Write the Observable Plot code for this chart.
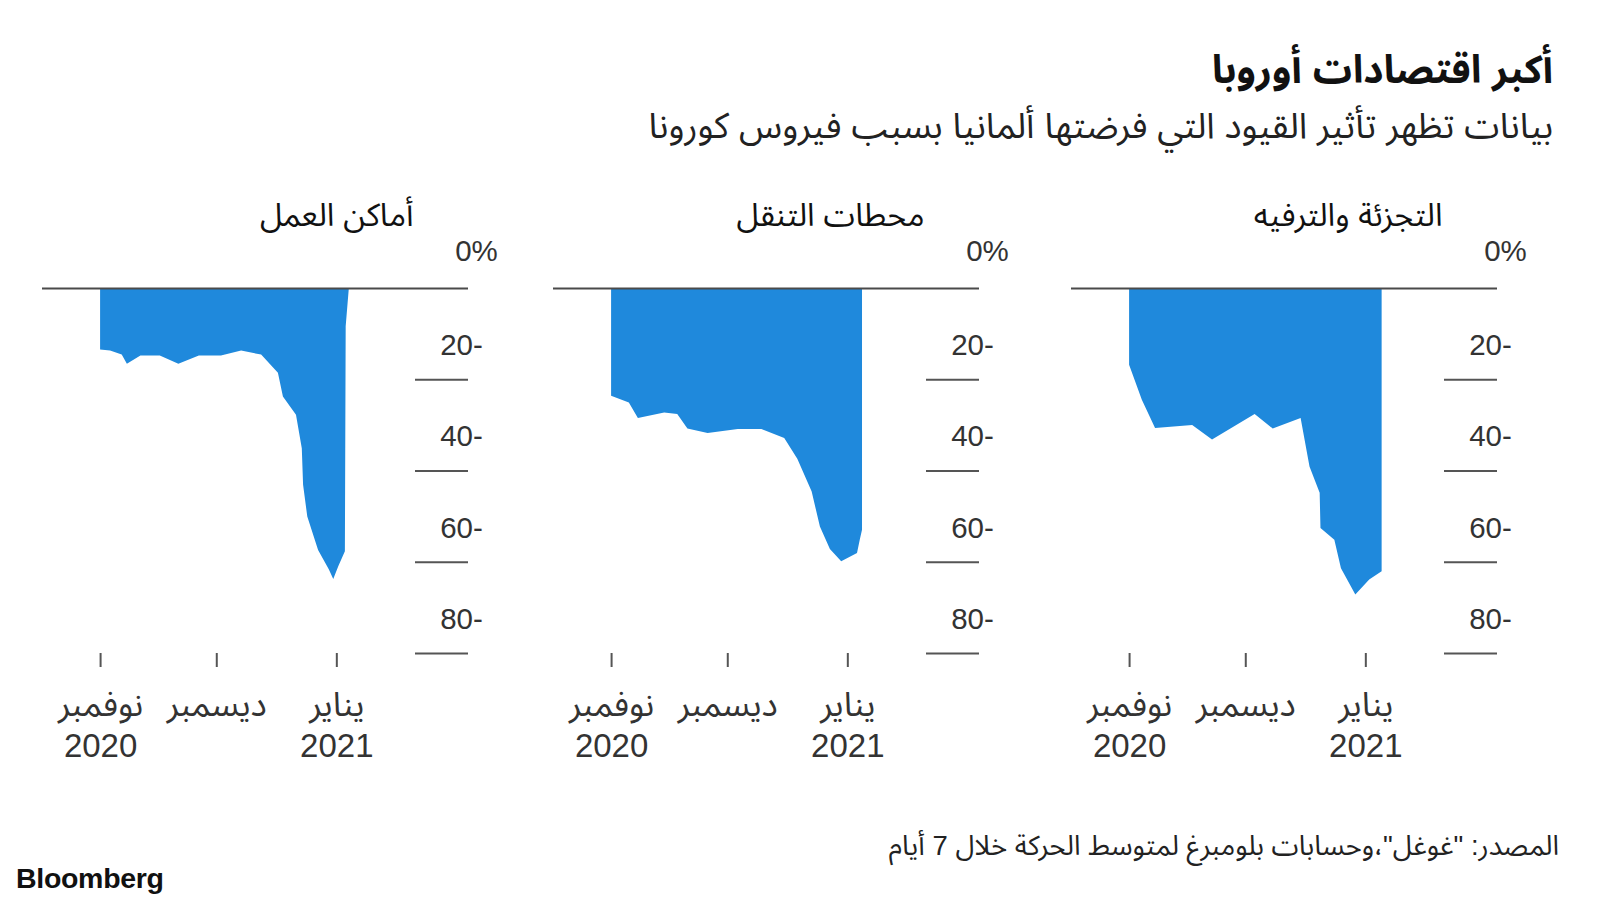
<!DOCTYPE html>
<html>
<head>
<meta charset="utf-8">
<script src="https://cdn.jsdelivr.net/npm/d3@7"></script>
<script src="https://cdn.jsdelivr.net/npm/@observablehq/plot@0.6"></script>
<style>
  html, body { margin: 0; padding: 0; background: #fff; }
  body { width: 1600px; height: 900px; overflow: hidden; position: relative;
         font-family: "Liberation Sans", "Noto Sans Arabic", "DejaVu Sans", sans-serif; }
  .t { position: absolute; white-space: nowrap; direction: rtl; line-height: 1; }
  #title { right: 47px; top: 50px; font-size: 39px; font-weight: bold; color: #111; }
  #subtitle { right: 47px; top: 109px; font-size: 35.7px; color: #222; }
  #caption { right: 41px; top: 832px; font-size: 27.5px; color: #222; }
  #logo { position: absolute; left: 16px; top: 862px; font-size: 28.5px; font-weight: bold;
          color: #111; letter-spacing: -0.3px; font-family: "Liberation Sans", Arial, sans-serif; }
  .panel { position: absolute; top: 180px; }
</style>
</head>
<body>
<div id="title" class="t">أكبر اقتصادات أوروبا</div>
<div id="subtitle" class="t">بيانات تظهر تأثير القيود التي فرضتها ألمانيا بسبب فيروس كورونا</div>
<div id="caption" class="t">المصدر: "غوغل"،وحسابات بلومبرغ لمتوسط الحركة خلال 7 أيام</div>
<div id="logo">Bloomberg</div>
<div id="p0" class="panel" style="left:22px"></div>
<div id="p1" class="panel" style="left:533px"></div>
<div id="p2" class="panel" style="left:1051px"></div>
<script>
// ---- data ----
const panelTitles = ["أماكن العمل", "محطات التنقل", "التجزئة والترفيه"];

const workDates = ["2020-11-01T00:00Z","2020-11-03T14:00Z","2020-11-06T14:00Z","2020-11-07T22:00Z","2020-11-11T10:00Z","2020-11-16T10:00Z","2020-11-21T05:00Z","2020-11-26T12:00Z","2020-12-02T05:00Z","2020-12-07T10:00Z","2020-12-12T14:00Z","2020-12-16T22:00Z","2020-12-18T05:00Z","2020-12-21T14:00Z","2020-12-23T02:00Z","2020-12-23T10:00Z","2020-12-24T12:00Z","2020-12-27T07:00Z","2020-12-30T02:00Z","2020-12-31T05:00Z","2021-01-01T12:00Z","2021-01-03T05:00Z","2021-01-03T10:00Z","2021-01-04T05:00Z"];
const workValues = [-13.5,-13.7,-14.6,-16.6,-14.8,-14.8,-16.6,-14.8,-14.8,-13.7,-14.6,-18.6,-23.8,-27.8,-35.1,-43.1,-50.1,-57.4,-61.7,-63.8,-61,-57.7,-8.4,-0.2];

const transitDates = ["2020-11-01T00:00Z","2020-11-05T14:00Z","2020-11-07T22:00Z","2020-11-14T17:00Z","2020-11-18T02:00Z","2020-11-20T17:00Z","2020-11-25T22:00Z","2020-12-03T17:00Z","2020-12-09T19:00Z","2020-12-15T17:00Z","2020-12-19T02:00Z","2020-12-22T19:00Z","2020-12-24T22:00Z","2020-12-27T12:00Z","2020-12-30T10:00Z","2021-01-03T12:00Z","2021-01-04T05:00Z","2021-01-04T19:00Z"];
const transitValues = [-23.6,-25.1,-28.5,-27.3,-27.6,-30.8,-31.8,-30.9,-30.9,-32.9,-37.4,-44.6,-52.3,-57.2,-59.9,-58.1,-55.2,-53];

const retailDates = ["2020-11-01T00:00Z","2020-11-04T07:00Z","2020-11-07T17:00Z","2020-11-17T07:00Z","2020-11-22T10:00Z","2020-12-03T10:00Z","2020-12-08T02:00Z","2020-12-15T07:00Z","2020-12-17T14:00Z","2020-12-20T05:00Z","2020-12-20T10:00Z","2020-12-24T00:00Z","2020-12-25T17:00Z","2020-12-29T10:00Z","2021-01-02T00:00Z","2021-01-05T05:00Z"];
const retailValues = [-16.8,-24.5,-30.7,-30,-33.2,-27.6,-30.8,-28.5,-39.1,-44.9,-52.6,-55.2,-61.4,-67.2,-63.9,-62.1];

const xDomain = ["2020-10-17T00:00Z", "2021-02-04T00:00Z"];
const xTicks = ["2020-11-01T00:00Z", "2020-12-01T00:00Z", "2021-01-01T00:00Z"];
const monthLabels = ["نوفمبر", "ديسمبر", "يناير"];
const yearLabels = ["2020", "", "2021"];
const yTicks = [0, -20, -40, -60, -80];

// ---- drawing ----
const series = [
  [workDates, workValues],
  [transitDates, transitValues],
  [retailDates, retailValues]
];
const FONT = '"Liberation Sans", "Noto Sans Arabic", "DejaVu Sans", sans-serif';
const tickDates = xTicks.map(d => new Date(d));

series.forEach(([dates, values], p) => {
  const data = dates.map((d, i) => ({date: new Date(d), value: values[i]}));
  const chart = Plot.plot({
    width: 520,
    height: 600,
    marginLeft: 20,
    marginRight: 74,
    marginTop: 108,
    marginBottom: 127,
    style: {fontFamily: FONT, fontSize: "28px", color: "#333", background: "transparent"},
    x: {type: "utc", domain: xDomain.map(d => new Date(d))},
    y: {domain: [-80, 0], axis: null},
    marks: [
      Plot.areaY(data, {x: "date", y: "value", fill: "#1f89dc", curve: "linear"}),
      Plot.ruleY([0], {stroke: "#4a4a4a", strokeWidth: 2.2}),
      Plot.ruleY(yTicks.filter(d => d !== 0), {y: d => d, insetLeft: 373, stroke: "#555", strokeWidth: 2}),
      Plot.text(yTicks.filter(d => d !== 0), {y: d => d, text: d => `${-d}-`, frameAnchor: "right",
        textAnchor: "middle", dx: -7, dy: -34, fontSize: 29.5, fill: "#333"}),
      Plot.text([0], {y: d => d, text: () => "0%", frameAnchor: "right",
        textAnchor: "middle", dx: 8, dy: -37, fontSize: 29.5, fill: "#333"}),
      Plot.text([panelTitles[p]], {text: d => d, frameAnchor: "top-right", textAnchor: "end",
        dx: -55, dy: -85, fontSize: 32, fill: "#111"}),
      Plot.axisX(tickDates, {tickSize: 14, tickFormat: () => "", stroke: "#555", strokeWidth: 2, label: null}),
      Plot.text(tickDates, {x: d => d, text: (d, i) => monthLabels[i], frameAnchor: "bottom",
        dy: 62, fontSize: 34, fill: "#333"}),
      Plot.text(tickDates, {x: d => d, text: (d, i) => yearLabels[i], frameAnchor: "bottom",
        dy: 103, fontSize: 33, fill: "#333"})
    ]
  });
  document.getElementById("p" + p).appendChild(chart);
});
</script>
</body>
</html>
